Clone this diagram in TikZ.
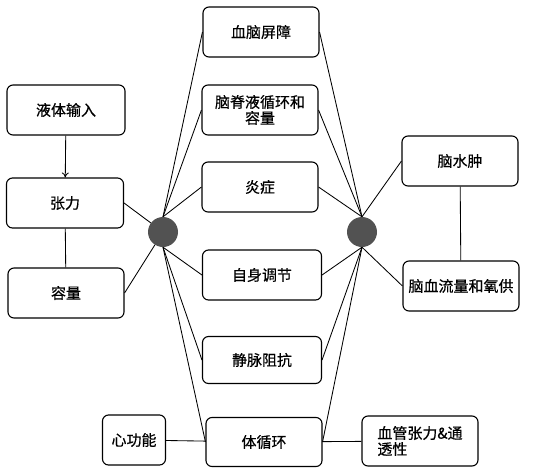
\documentclass[tikz,border=0pt]{standalone}
\usepackage{fontspec}
\setmainfont{Noto Sans CJK SC}[FakeBold=0.6,AutoFakeBold=0.6]
\usetikzlibrary{arrows.meta}
\begin{document}
\begin{tikzpicture}[x=1pt,y=-1pt,
  box/.style={draw,line width=1.1pt,rounded corners=6pt,minimum width=116pt,minimum height=50pt,inner sep=2pt,font=\fontsize{15}{18}\selectfont\bfseries,align=center},
  conn/.style={line width=0.85pt},
  hub/.style={circle,fill=black!68,minimum size=30pt,inner sep=0pt}]
\useasboundingbox (0,0) rectangle (547,475);
\node[box] (b1) at (261,32) {血脑屏障};
\node[box] (b2) at (260,110) {脑脊液循环和\\[-2pt]容量};
\node[box] (b3) at (260,187) {炎症};
\node[box,minimum width=119pt] (b4) at (262,275) {自身调节};
\node[box,minimum width=119pt,minimum height=47pt] (b5) at (262,360) {静脉阻抗};
\node[box,minimum height=49pt] (b6) at (264,442) {体循环};
\node[box,minimum width=63pt] (h) at (134,440) {心功能};
\node[box,align=left] (v) at (420,441) {血管张力\&通\\[-2pt]透性};
\node[box,minimum width=118pt] (l1) at (66,110) {液体输入};
\node[box,minimum width=117pt] (l2) at (65,203) {张力};
\node[box] (l3) at (66,293) {容量};
\node[box] (r1) at (460,161) {脑水肿};
\node[box] (r2) at (461,286) {脑血流量和氧供};
\node[hub] (lc) at (163,232) {};
\node[hub] (rc) at (362,232) {};
\draw[conn,-{To[length=5pt,width=7pt]}] (l1) -- (l2);
\draw[conn] (l2) -- (l3);
\draw[conn] (r1) -- (r2);
\draw[conn] (h) -- (b6);
\draw[conn] (b6) -- (v);
\draw[conn] (l2.east) -- (lc);
\draw[conn] (l3.east) -- (lc);
\foreach \n in {b1,b2,b3} {\draw[conn] (lc.north) -- (\n.west); \draw[conn] (rc.north) -- (\n.east);}
\foreach \n in {b4,b5,b6} {\draw[conn] (lc.south) -- (\n.west); \draw[conn] (rc.south) -- (\n.east);}
\draw[conn] (rc.north) -- (r1.west);
\draw[conn] (rc.south) -- (r2.west);
\end{tikzpicture}
\end{document}
